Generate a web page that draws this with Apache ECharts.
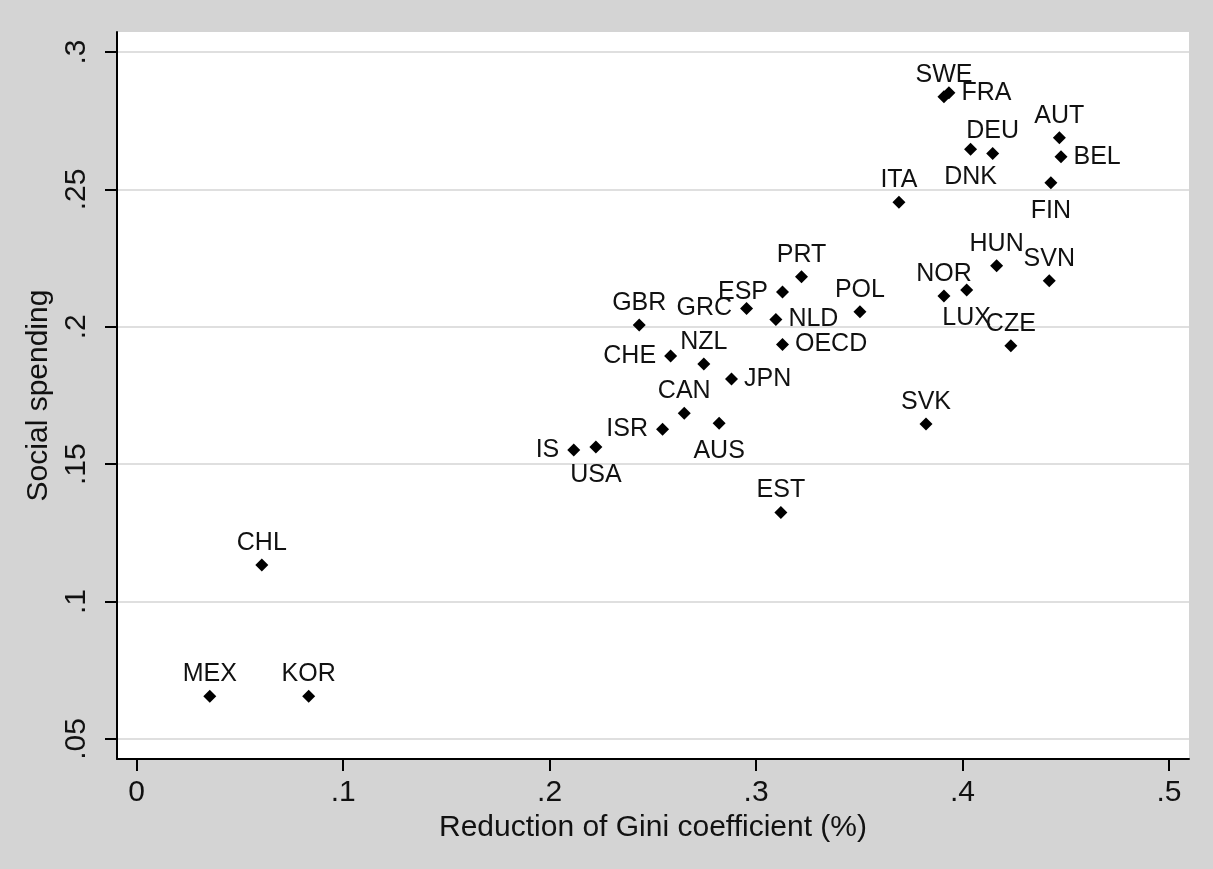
<!DOCTYPE html>
<html><head><meta charset="utf-8">
<script src="https://cdn.jsdelivr.net/npm/echarts@6/dist/echarts.min.js"></script>
<style>html,body{margin:0;padding:0;background:#d4d4d4;} #chart{width:1213px;height:869px;}</style>
</head><body><div id="chart"></div>
<script>
// ---- data ----
const countries = ['MEX','KOR','CHL','IS','USA','ISR','CAN','AUS','EST','JPN','CHE','NZL','GBR','GRC','ESP','PRT','NLD','OECD','POL','ITA','SWE','FRA','DNK','DEU','AUT','BEL','FIN','HUN','SVN','NOR','LUX','CZE','SVK'];
const giniReduction = [0.0354,0.0833,0.0606,0.2117,0.2224,0.2547,0.2652,0.2821,0.3120,0.2881,0.2586,0.2747,0.2434,0.2954,0.3128,0.3220,0.3096,0.3128,0.3503,0.3692,0.3910,0.3934,0.4039,0.4146,0.4469,0.4477,0.4428,0.4165,0.4420,0.3910,0.4020,0.4234,0.3823];
const socialSpending = [0.0656,0.0656,0.1133,0.1552,0.1563,0.1627,0.1685,0.1649,0.1324,0.1810,0.1894,0.1865,0.2007,0.2067,0.2127,0.2182,0.2027,0.1936,0.2055,0.2453,0.2837,0.2852,0.2646,0.2631,0.2688,0.2619,0.2524,0.2222,0.2168,0.2112,0.2134,0.1931,0.1646];
const xTicks = [0, 0.1, 0.2, 0.3, 0.4, 0.5];
const yTicks = [0.05, 0.1, 0.15, 0.2, 0.25, 0.3];
const xTitle = 'Reduction of Gini coefficient (%)';
const yTitle = 'Social spending';

// ---- label placement (layout) ----
const placeBottom = ['USA','AUS','DNK','FIN','LUX'];
const placeLeft = ['IS','ISR','CHE','GRC','ESP'];
const placeRight = ['JPN','NLD','OECD','FRA','BEL'];
const labelDist = {top: 3, bottom: 9, left: 8, right: 6};
function placeOf(c){
  if (placeBottom.includes(c)) return 'bottom';
  if (placeLeft.includes(c)) return 'left';
  if (placeRight.includes(c)) return 'right';
  return 'top';
}
function fmt(v){
  if (v === 0) return '0';
  return String(+v.toFixed(2)).replace(/^0\./, '.');
}

const FONT = 'Liberation Sans, Arial, sans-serif';
const data = countries.map((c, i) => {
  const p = placeOf(c);
  return {
    name: c,
    value: [giniReduction[i], socialSpending[i]],
    label: {position: p, distance: labelDist[p]}
  };
});

const chart = echarts.init(document.getElementById('chart'), null, {renderer: 'canvas'});
chart.setOption({
  animation: false,
  backgroundColor: '#d4d4d4',
  grid: {left: 117, top: 32, right: 24, bottom: 110, show: true, backgroundColor: '#ffffff', borderWidth: 0, containLabel: false},
  xAxis: {
    type: 'value',
    min: -0.00954, max: 0.50969,
    name: xTitle, nameLocation: 'middle', nameGap: 51,
    nameTextStyle: {fontFamily: FONT, fontSize: 30, color: '#111'},
    axisLine: {show: true, onZero: false, lineStyle: {color: '#000', width: 2}},
    axisTick: {show: true, length: 12, lineStyle: {color: '#000', width: 2}, customValues: xTicks},
    axisLabel: {customValues: xTicks, formatter: fmt, fontFamily: FONT, fontSize: 30, color: '#111', margin: 19, hideOverlap: false},
    splitLine: {show: false}
  },
  yAxis: {
    type: 'value',
    min: 0.04272, max: 0.30728,
    name: yTitle, nameLocation: 'middle', nameGap: 59,
    nameTextStyle: {fontFamily: FONT, fontSize: 30, color: '#111'},
    axisLine: {show: true, onZero: false, lineStyle: {color: '#000', width: 2}},
    axisTick: {show: true, length: 12, lineStyle: {color: '#000', width: 2}, customValues: yTicks},
    axisLabel: {customValues: yTicks, formatter: fmt, rotate: 90, fontFamily: FONT, fontSize: 30, color: '#111', margin: 25, hideOverlap: false},
    splitLine: {show: true, lineStyle: {color: '#d4d4d4', width: 1.5}}
  },
  series: [{
    type: 'scatter',
    symbol: 'diamond',
    symbolSize: 13,
    itemStyle: {color: '#000', opacity: 1},
    label: {show: true, formatter: '{b}', fontFamily: FONT, fontSize: 25, color: '#111', opacity: 1},
    emphasis: {disabled: true},
    labelLayout: {hideOverlap: false},
    data: data
  }]
});
</script>
</body></html>
